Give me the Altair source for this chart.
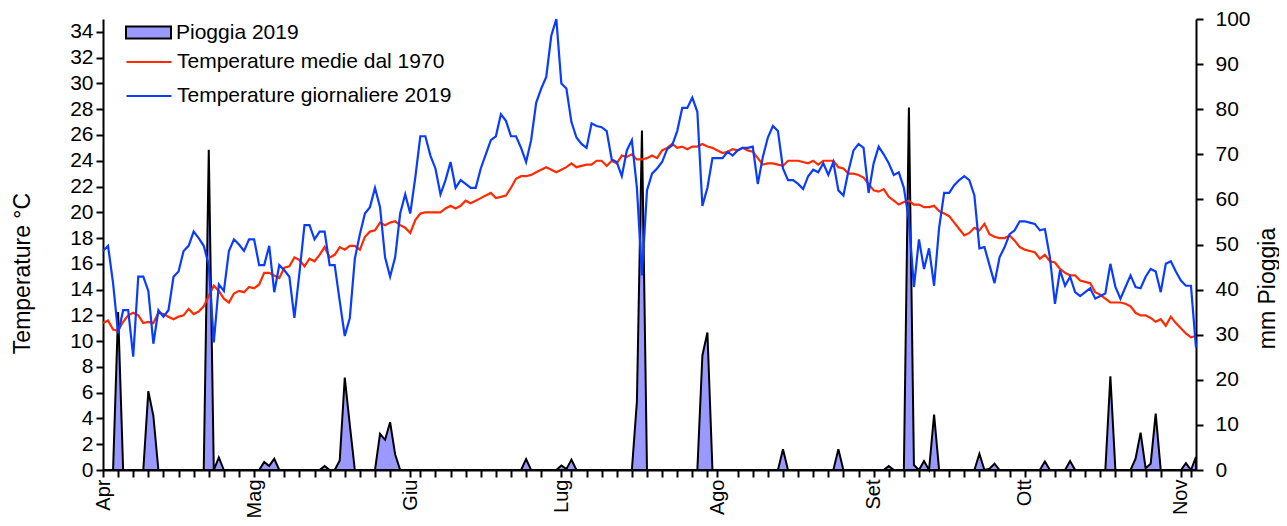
import altair as alt
import pandas as pd

# Day index 0 = 1 April 2019
month_days = [0, 30, 61, 91, 122, 153, 183, 214]
month_names = ["Apr", "Mag", "Giu", "Lug", "Ago", "Set", "Ott", "Nov"]

# Temperature giornaliere 2019 (°C)
t_daily = [
    17.0, 17.4, 14.5, 10.6, 12.4, 12.4, 8.8, 15.0, 15.0, 13.9,
    9.8, 12.4, 11.9, 12.4, 15.0, 15.4, 17.0, 17.4, 18.5, 18.0,
    17.4, 15.9, 9.9, 14.4, 13.9, 17.0, 17.9, 17.5, 17.0, 17.9,
    17.9, 15.9, 15.9, 17.4, 13.8, 15.9, 15.5, 15.0, 11.8, 15.3,
    19.0, 19.0, 17.9, 18.5, 18.5, 15.9, 15.9, 13.1, 10.4, 11.8,
    16.4, 18.3, 19.9, 20.4, 21.9, 20.4, 16.5, 15.0, 16.5, 19.9,
    21.4, 19.9, 22.7, 25.9, 25.9, 24.4, 23.4, 21.4, 22.5, 23.9,
    21.9, 22.5, 22.2, 21.9, 21.9, 23.4, 24.5, 25.6, 25.9, 27.6,
    27.1, 25.9, 25.9, 25.0, 23.9, 25.6, 28.5, 29.6, 30.5, 33.7,
    35.0, 30.0, 29.6, 27.0, 25.8, 25.3, 25.0, 26.9, 26.7, 26.6,
    26.3, 24.1, 23.9, 22.8, 24.8, 25.6, 21.9, 15.1, 21.7, 23.0,
    23.4, 23.9, 24.9, 25.2, 26.3, 28.1, 28.1, 28.9, 27.8, 20.5,
    21.9, 24.2, 24.2, 24.2, 24.7, 24.4, 24.8, 25.0, 25.0, 25.1,
    22.2, 24.3, 25.8, 26.7, 26.3, 23.4, 22.5, 22.5, 22.2, 21.8,
    22.8, 23.3, 23.1, 23.8, 22.9, 23.9, 21.7, 21.3, 23.2, 24.8,
    25.3, 25.0, 21.5, 23.8, 25.1, 24.5, 23.8, 22.9, 23.1, 21.9,
    19.4, 14.2, 17.9, 15.6, 17.2, 14.3, 18.8, 21.5, 21.5, 22.1,
    22.5, 22.8, 22.5, 21.3, 17.2, 17.3, 15.9, 14.5, 16.5, 17.3,
    18.3, 18.6, 19.3, 19.3, 19.2, 19.1, 18.6, 18.7, 16.5, 12.9,
    15.5, 14.3, 15.0, 13.8, 13.5, 13.8, 14.1, 13.3, 13.5, 13.7,
    16.0, 14.2, 13.3, 14.2, 15.1, 14.2, 14.1, 15.0, 15.6, 15.4,
    13.8, 16.0, 16.2, 15.4, 14.7, 14.3, 14.3, 9.5,
]

# Temperature medie dal 1970 (°C)
t_mean = [
    11.4, 11.6, 10.9, 10.8, 11.5, 12.0, 12.2, 12.0, 11.4, 11.5,
    11.4, 12.2, 12.1, 11.9, 11.7, 11.9, 12.0, 12.5, 12.1, 12.3,
    12.7, 13.5, 14.3, 13.9, 13.3, 13.0, 13.7, 13.9, 13.8, 14.2,
    14.1, 14.4, 15.3, 15.3, 15.1, 14.9, 15.7, 15.8, 16.5, 16.3,
    15.8, 16.4, 16.2, 16.7, 17.3, 16.5, 16.7, 17.3, 17.1, 17.4,
    17.4, 17.1, 18.1, 18.5, 18.6, 19.2, 19.0, 19.2, 19.3, 19.0,
    18.8, 18.4, 19.4, 19.9, 20.0, 20.0, 20.0, 20.0, 20.3, 20.5,
    20.3, 20.5, 20.9, 20.7, 20.9, 21.1, 21.3, 21.5, 21.1, 21.2,
    21.3, 21.9, 22.6, 22.8, 22.8, 22.9, 23.1, 23.3, 23.5, 23.3,
    23.1, 23.3, 23.5, 23.8, 23.5, 23.6, 23.7, 23.7, 24.0, 24.0,
    23.6, 24.0, 23.8, 24.4, 24.3, 24.5, 24.1, 24.1, 24.2, 24.4,
    24.2, 24.8, 25.0, 25.3, 25.0, 25.1, 24.9, 25.1, 25.1, 25.3,
    25.1, 25.0, 24.8, 24.6, 24.7, 24.9, 24.8, 25.0, 24.8, 24.7,
    24.2, 23.7, 23.8, 23.8, 23.7, 23.6, 24.0, 24.0, 24.0, 23.9,
    23.8, 24.0, 23.7, 24.0, 24.0, 24.0, 23.5, 23.4, 23.0, 23.0,
    22.9, 22.7, 22.2, 21.7, 21.6, 21.8, 21.2, 20.9, 20.6, 20.8,
    20.9, 20.6, 20.6, 20.4, 20.4, 20.5, 20.1, 19.9, 19.7, 19.2,
    18.7, 18.2, 18.4, 18.8, 18.6, 19.1, 18.3, 18.1, 18.0, 18.0,
    18.2, 17.8, 17.3, 17.1, 17.0, 16.9, 16.4, 16.7, 16.2, 16.1,
    15.6, 15.3, 15.1, 15.1, 14.7, 14.6, 14.5, 13.8, 13.6, 13.3,
    13.0, 13.0, 13.0, 12.9, 12.7, 12.2, 12.0, 12.0, 11.8, 11.5,
    11.7, 11.2, 11.9, 11.4, 11.0, 10.6, 10.3, 10.4,
]

# Pioggia 2019 (mm): rainy days (day index -> mm), all other days 0
rain_days = [3, 9, 10, 21, 23, 32, 33, 34, 44, 47, 48, 49, 55, 56, 57, 58,
             84, 91, 92, 93, 106, 107, 119, 120, 135, 146, 156, 160, 161, 163,
             165, 174, 176, 177, 187, 192, 200, 205, 206, 207, 208, 209, 215, 217]
rain_mm = [35.0, 17.5, 12.0, 71.0, 2.8, 1.8, 0.9, 2.5, 0.9, 2.1, 20.5, 10.0, 8.0, 6.7, 10.6, 3.5,
           2.4, 1.0, 0.2, 2.3, 15.2, 75.3, 25.4, 30.5, 4.6, 4.6, 0.9, 80.4, 1.1, 2.0,
           12.3, 3.6, 0.3, 1.4, 1.9, 2.0, 20.8, 2.5, 8.3, 0.4, 1.4, 12.5, 1.5, 2.9]

n_days = len(t_daily)
rain = [0.0] * n_days
for d, v in zip(rain_days, rain_mm):
    rain[d] = v

S_RAIN = "Pioggia 2019"
S_MEAN = "Temperature medie dal 1970"
S_DAILY = "Temperature giornaliere 2019"

rain_df = pd.DataFrame({"day": list(range(n_days)), "rain": rain, "serie": S_RAIN})
temp_df = pd.concat([
    pd.DataFrame({"day": list(range(n_days)), "temp": t_mean, "serie": S_MEAN}),
    pd.DataFrame({"day": list(range(n_days)), "temp": t_daily, "serie": S_DAILY}),
])

# x ticks every 3 days, month starts replacing the nearest one
ticks = set(range(0, n_days, 3))
for m in month_days:
    ticks.discard(3 * round(m / 3))
    ticks.add(m)
ticks = sorted(t for t in ticks if t < n_days)

label_expr = ("indexof(%s, datum.value) >= 0 ? %s[indexof(%s, datum.value)] : ''"
              % (month_days, [str(n) for n in month_names], month_days))

FONT = "Liberation Sans"

x_enc = alt.X(
    "day:Q",
    scale=alt.Scale(domain=[0, n_days - 1], nice=False, zero=False),
    axis=alt.Axis(values=ticks, labelExpr=label_expr, labelAngle=-90, title=None,
                  grid=False, tickSize=7, labelPadding=2, labelFontSize=20,
                  labelFlush=False, labelOverlap=False, labelBound=False),
)

area = alt.Chart(rain_df).mark_area(
    stroke="black", strokeWidth=2, interpolate="linear", fillOpacity=1
).encode(
    x=x_enc,
    y=alt.Y("rain:Q", scale=alt.Scale(domain=[0, 100], nice=False),
            axis=alt.Axis(orient="right", values=list(range(0, 101, 10)), title="mm Pioggia",
                          grid=False, tickSize=7, labelPadding=12, labelFontSize=21,
                          titleFontSize=23, titleFontWeight="normal", titleAngle=-90,
                          titleBaseline="middle", titleAlign="center", titleX=71, titleY=269)),
    fill=alt.Fill("serie:N", scale=alt.Scale(domain=[S_RAIN], range=["#9999ff"]),
                  legend=alt.Legend(title=None, orient="none", legendX=22, legendY=-10,
                                    symbolType="M-1,-0.27H1V0.27H-1Z", symbolSize=2025,
                                    symbolStrokeColor="black", symbolStrokeWidth=2,
                                    labelFontSize=21, labelOffset=4, labelLimit=0, padding=0)),
)

lines = alt.Chart(temp_df).mark_line(strokeWidth=2.2).encode(
    x=x_enc,
    y=alt.Y("temp:Q", scale=alt.Scale(domain=[0, 35], nice=False),
            axis=alt.Axis(orient="left", values=list(range(0, 35, 2)), title="Temperature °C",
                          grid=False, tickSize=7, labelPadding=3, labelFontSize=21,
                          titleFontSize=23, titleFontWeight="normal", titleAngle=-90,
                          titleBaseline="middle", titleAlign="center", titleX=-81, titleY=254)),
    stroke=alt.Stroke("serie:N", scale=alt.Scale(domain=[S_MEAN, S_DAILY], range=["#ff2a00", "#0a3cff"]),
                      legend=alt.Legend(title=None, orient="none", legendX=22, legendY=19,
                                        symbolType="stroke", symbolSize=2025, symbolStrokeWidth=2.2,
                                        labelFontSize=21, labelOffset=4, labelLimit=0,
                                        padding=0, rowPadding=-3)),
    order=alt.Order("serie:N"),
)

chart = alt.layer(area, lines).resolve_scale(y="independent").properties(
    width=1093, height=451,
    autosize=alt.AutoSizeParams(type="none"),
    padding={"left": 95, "top": 11, "right": 83, "bottom": 48},
).configure_view(stroke=None).configure_axis(
    domainColor="black", domainWidth=2, tickColor="black", tickWidth=2,
    labelColor="black", titleColor="black", labelFont=FONT, titleFont=FONT,
).configure_legend(labelFont=FONT, labelColor="black")

chart.save("out.html", embed_options={"renderer": "svg", "actions": False})
